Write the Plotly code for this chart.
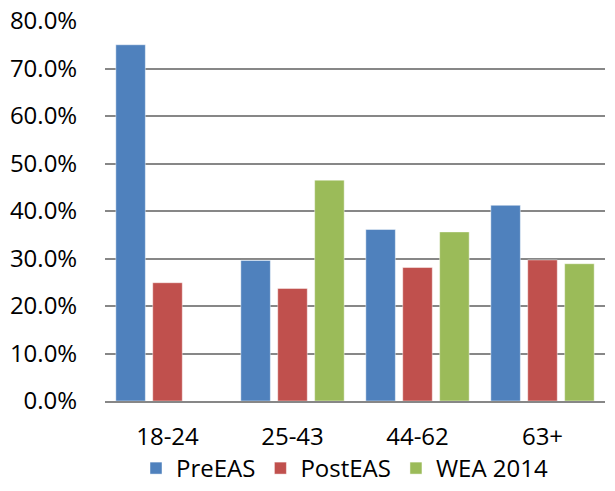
import plotly.graph_objects as go

# Age groups and share of respondents per survey
categories = ["18-24", "25-43", "44-62", "63+"]
pre_eas = [0.750, 0.296, 0.361, 0.412]
post_eas = [0.249, 0.237, 0.281, 0.297]
wea_2014 = [None, 0.465, 0.356, 0.289]

y_ticks = [0.0, 0.1, 0.2, 0.3, 0.4, 0.5, 0.6, 0.7, 0.8]
y_tick_labels = ["0.0%", "10.0%", "20.0%", "30.0%", "40.0%",
                 "50.0%", "60.0%", "70.0%", "80.0%"]

series = [
    ("PreEAS", pre_eas, "#4F81BD"),
    ("PostEAS", post_eas, "#C0504D"),
    ("WEA 2014", wea_2014, "#9BBB59"),
]

FONT = "'Open Sans', sans-serif"
SIZE = 24

fig = go.Figure()
for name, values, color in series:
    fig.add_trace(go.Bar(
        name=name,
        x=categories,
        y=values,
        marker=dict(color=color, line=dict(color="rgba(255,255,255,0.45)", width=1)),
    ))

fig.update_layout(
    width=615,
    height=491,
    margin=dict(l=105, r=10, t=21, b=90, autoexpand=False),
    paper_bgcolor="white",
    plot_bgcolor="white",
    barmode="group",
    bargap=0.114,
    bargroupgap=0.2,
    font=dict(family=FONT, size=SIZE, color="#000000"),
    showlegend=True,
    legend=dict(
        orientation="h",
        x=0.48,
        xanchor="center",
        yref="container",
        y=0.0,
        yanchor="bottom",
        font=dict(family=FONT, size=SIZE, color="#000000"),
        itemwidth=30,
        traceorder="normal",
    ),
    xaxis=dict(
        showgrid=False,
        showline=True,
        linecolor="#878787",
        linewidth=1.5,
        ticks="outside",
        ticklen=13,
        tickcolor="rgba(0,0,0,0)",
        tickfont=dict(family=FONT, size=SIZE),
    ),
    yaxis=dict(
        range=[0, 0.8],
        tickvals=y_ticks,
        ticktext=y_tick_labels,
        showgrid=True,
        gridcolor="#878787",
        gridwidth=1.5,
        zeroline=False,
        showline=False,
        ticks="outside",
        ticklen=22,
        tickcolor="rgba(0,0,0,0)",
        tickfont=dict(family=FONT, size=SIZE),
    ),
)

fig.write_html("out.html")
